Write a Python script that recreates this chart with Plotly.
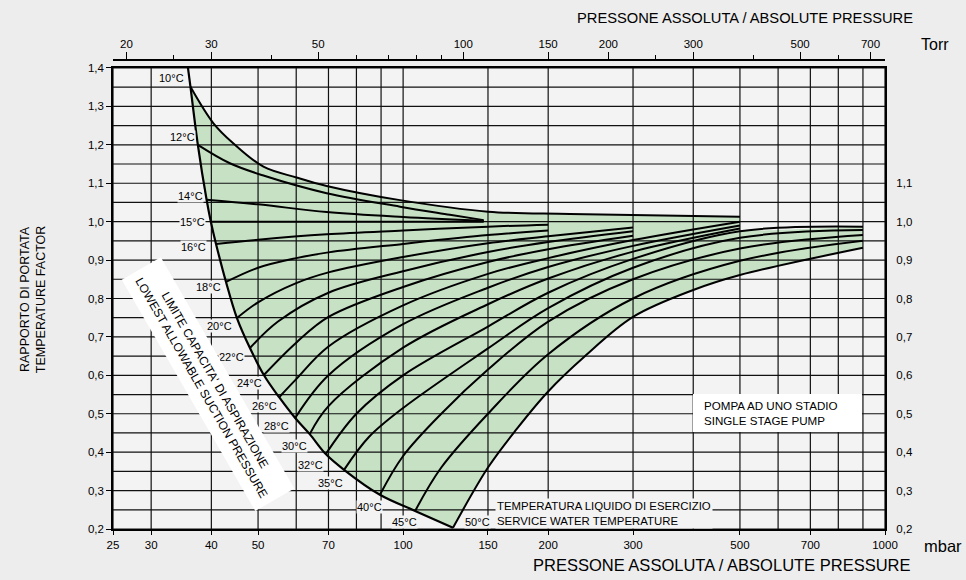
import math
import plotly.graph_objects as go

# ---------------- data ----------------
# lowest allowable suction pressure (limit line): mbar / factor
limit_p = [35.77, 36.2, 37.5, 39.1, 39.9, 40.9, 42.9, 45.2, 48.1, 51.4, 55.3, 59.7, 64.0, 69.1, 75.4, 89.5, 105.9, 126.9]
limit_v = [1.40, 1.351, 1.20, 1.057, 1.0, 0.942, 0.843, 0.749, 0.671, 0.601, 0.543, 0.489, 0.447, 0.395, 0.354, 0.289, 0.247, 0.203]

p_10 = [36.2, 40.4, 44.4, 51.3, 60.1, 69.4, 98.5, 150, 222, 500]
v_10 = [1.351, 1.256, 1.204, 1.143, 1.115, 1.093, 1.056, 1.026, 1.020, 1.013]
p_12 = [37.5, 43.7, 51.3, 69.4, 98.5, 125, 147]
v_12 = [1.20, 1.152, 1.12, 1.074, 1.039, 1.018, 1.004]
p_14 = [39.1, 50, 69.4, 100, 147]
v_14 = [1.057, 1.045, 1.025, 1.012, 1.002]
p_15 = [39.9, 147]
v_15 = [1.0, 1.0]
p_16 = [40.9, 50, 69.4, 100, 150, 200]
v_16 = [0.942, 0.953, 0.967, 0.977, 0.987, 0.992]
p_18 = [42.9, 50, 60, 70, 100, 150, 200]
v_18 = [0.843, 0.88, 0.905, 0.92, 0.942, 0.965, 0.977]
p_20 = [45.2, 50, 60, 70, 100, 150, 200, 300]
v_20 = [0.749, 0.79, 0.84, 0.868, 0.908, 0.944, 0.962, 0.985]
p_22 = [48.1, 55, 70, 100, 150, 200, 300]
v_22 = [0.671, 0.74, 0.815, 0.871, 0.921, 0.947, 0.975]
p_24 = [51.4, 60, 70, 100, 150, 200, 300]
v_24 = [0.601, 0.685, 0.752, 0.83, 0.895, 0.928, 0.963]
p_26 = [55.3, 60, 70, 100, 150, 200, 300, 500]
v_26 = [0.543, 0.59, 0.675, 0.782, 0.864, 0.905, 0.952, 1.0]
p_28 = [59.7, 70, 100, 150, 200, 300, 500]
v_28 = [0.489, 0.6, 0.733, 0.828, 0.882, 0.937, 0.99]
p_30 = [64.0, 70, 100, 150, 200, 300, 500]
v_30 = [0.447, 0.52, 0.672, 0.785, 0.852, 0.922, 0.982]
p_32 = [69.1, 80, 100, 150, 200, 300, 500, 900]
v_32 = [0.395, 0.5, 0.6, 0.727, 0.815, 0.903, 0.975, 0.987]
p_35 = [75.4, 85, 100, 150, 200, 300, 500, 900]
v_35 = [0.354, 0.44, 0.515, 0.67, 0.775, 0.88, 0.958, 0.978]
p_40 = [89.5, 100, 120, 150, 200, 300, 500, 900]
v_40 = [0.289, 0.39, 0.5, 0.615, 0.74, 0.85, 0.93, 0.965]
p_45 = [105.9, 120, 150, 200, 300, 500, 900]
v_45 = [0.247, 0.36, 0.50, 0.655, 0.80, 0.898, 0.95]
p_50 = [126.9, 150, 172, 200, 238, 300, 400, 500, 900]
v_50 = [0.203, 0.36, 0.46, 0.558, 0.649, 0.752, 0.822, 0.861, 0.932]

temps = [10, 12, 14, 15, 16, 18, 20, 22, 24, 26, 28, 30, 32, 35, 40, 45, 50]

# axis ticks / grid
mbar_ticks = [25, 30, 40, 50, 70, 100, 150, 200, 300, 500, 700, 1000]
mbar_grid = [25, 30, 40, 50, 60, 70, 80, 90, 100, 150, 200, 300, 400, 500, 600, 700, 800, 900, 1000]
torr_major = [20, 30, 50, 100, 150, 200, 300, 500, 700]
torr_minor = [25, 40, 60, 70, 80, 90, 250, 400, 600]
TORR_TO_MBAR = 1.33322
factor_ticks = [0.2, 0.3, 0.4, 0.5, 0.6, 0.7, 0.8, 0.9, 1.0, 1.1, 1.2, 1.3, 1.4]
factor_right = [0.2, 0.3, 0.4, 0.5, 0.6, 0.7, 0.8, 0.9, 1.0, 1.1]
factor_grid = [0.2, 0.25, 0.3, 0.35, 0.4, 0.45, 0.5, 0.55, 0.6, 0.65, 0.7, 0.75, 0.8, 0.85,
               0.9, 0.95, 1.0, 1.05, 1.1, 1.15, 1.2, 1.25, 1.3, 1.35, 1.4]

curves = {10: (p_10, v_10), 12: (p_12, v_12), 14: (p_14, v_14), 15: (p_15, v_15),
          16: (p_16, v_16), 18: (p_18, v_18), 20: (p_20, v_20), 22: (p_22, v_22),
          24: (p_24, v_24), 26: (p_26, v_26), 28: (p_28, v_28), 30: (p_30, v_30),
          32: (p_32, v_32), 35: (p_35, v_35), 40: (p_40, v_40), 45: (p_45, v_45),
          50: (p_50, v_50)}

# ---------------- styling ----------------
BG = "#ededed"
PLOT_BG = "#f3f3f3"
GREEN = "#c7e1c5"
FONT = "Liberation Sans, Arial, sans-serif"

def comma(v):
    return f"{v:.1f}".replace(".", ",")

fig = go.Figure()

# ---- green band (built from the boundary curves) ----
fx, fy = [], []
fx += p_10; fy += v_10
fx += [p_10[-1], p_32[-2], p_32[-2]]; fy += [v_10[-1], v_32[-2], v_32[-2]]
fx += [p_32[-1], p_32[-1], p_50[-1], p_50[-1]]; fy += [v_32[-1], v_32[-1], v_50[-1], v_50[-1]]
fx += p_50[::-1][1:]; fy += v_50[::-1][1:]
fx += [p_50[0]]; fy += [v_50[0]]
fx += limit_p[::-1][1:-2]; fy += limit_v[::-1][1:-2]
fig.add_trace(go.Scatter(x=fx, y=fy, mode="lines", fill="toself", fillcolor=GREEN,
                         line=dict(width=0, color=GREEN, shape="spline", smoothing=1),
                         hoverinfo="skip", showlegend=False))

# ---- grid drawn above the fill ----
gx, gy = [], []
for g in factor_grid:
    gx += [25, 1000, None]; gy += [g, g, None]
for g in mbar_grid:
    gx += [g, g, None]; gy += [0.2, 1.4, None]
fig.add_trace(go.Scatter(x=gx, y=gy, mode="lines", line=dict(color="#111", width=1.2),
                         hoverinfo="skip", showlegend=False))

# ---- temperature curves ----
for t in temps:
    px_, pv_ = curves[t]
    fig.add_trace(go.Scatter(x=px_, y=pv_, mode="lines",
                             line=dict(color="black", width=2, shape="spline", smoothing=1),
                             name=f"{t}°C", showlegend=False))
fig.add_trace(go.Scatter(x=limit_p, y=limit_v, mode="lines",
                         line=dict(color="black", width=2.2, shape="spline", smoothing=1),
                         showlegend=False, name="limit"))

# invisible anchors for the secondary axes
fig.add_trace(go.Scatter(x=[100], y=[1], xaxis="x2", yaxis="y", mode="markers",
                         marker=dict(opacity=0), hoverinfo="skip", showlegend=False))
fig.add_trace(go.Scatter(x=[100], y=[1], xaxis="x", yaxis="y2", mode="markers",
                         marker=dict(opacity=0), hoverinfo="skip", showlegend=False))

# ---- temperature labels ----
label_shift = {10: (-5, 9), 12: (-2, 8), 14: (-3, 4), 15: (-5, 0), 16: (-9, -3), 18: (-4, -5),
               20: (-4, -8), 22: (-5, -9), 24: (-1, -8), 26: (-1, -9), 28: (-5, -8),
               30: (-2, -12), 32: (-2, -11), 35: (0, -13), 40: (3, -12), 45: (3, -11)}
annotations = []
for t in temps:
    px_, pv_ = curves[t]
    if t == 50:
        annotations.append(dict(x=math.log10(px_[0]), y=pv_[0], xref="x", yref="y",
                                text="50°C", showarrow=False, xanchor="left", yanchor="middle",
                                xshift=11, yshift=6, font=dict(size=11, family=FONT, color="black"),
                                bgcolor=PLOT_BG, borderpad=0))
        continue
    xs, ys = label_shift[t]
    annotations.append(dict(x=math.log10(px_[0]), y=pv_[0], xref="x", yref="y",
                            text=f"{t}°C", showarrow=False, xanchor="right", yanchor="middle",
                            xshift=xs, yshift=ys, font=dict(size=11, family=FONT, color="black"),
                            bgcolor=PLOT_BG, borderpad=0))

# ---- texts ----
annotations += [
    dict(x=1.039, y=1.0896, xref="paper", yref="paper", text="PRESSONE ASSOLUTA / ABSOLUTE PRESSURE",
         showarrow=False, xanchor="right", yanchor="middle", font=dict(size=14.7, family=FONT, color="black")),
    dict(x=1.0648, y=1.032, xref="paper", yref="paper", text="Torr", showarrow=False,
         xanchor="center", yanchor="middle", font=dict(size=16, family=FONT, color="black")),
    dict(x=1.0745, y=-0.036, xref="paper", yref="paper", text="mbar", showarrow=False,
         xanchor="center", yanchor="middle", font=dict(size=16.5, family=FONT, color="black")),
    dict(x=1.0363, y=-0.077, xref="paper", yref="paper", text="PRESSONE ASSOLUTA / ABSOLUTE PRESSURE",
         showarrow=False, xanchor="right", yanchor="middle", font=dict(size=16.5, family=FONT, color="black")),
    dict(x=-0.1036, y=0.488, xref="paper", yref="paper", text="RAPPORTO DI PORTATA<br>TEMPERATURE FACTOR",
         showarrow=False, textangle=-90, xanchor="center", yanchor="middle",
         font=dict(size=12.5, family=FONT, color="black")),
    dict(x=0.4948, y=0.032, xref="paper", yref="paper",
         text="TEMPERATURA LIQUIDO DI ESERCIZIO<br>SERVICE WATER TEMPERATURE",
         showarrow=False, xanchor="left", yanchor="middle", align="left",
         font=dict(size=11.4, family=FONT, color="black"), bgcolor=PLOT_BG, borderpad=1),
    dict(x=0.763, y=0.2473, xref="paper", yref="paper",
         text="POMPA AD UNO STADIO<br>SINGLE STAGE PUMP",
         showarrow=False, xanchor="left", yanchor="middle", align="left",
         font=dict(size=11.6, family=FONT, color="black")),
    dict(x=0.123, y=0.309, xref="paper", yref="paper",
         text="LIMITE CAPACITA' DI ASPIRAZIONE<br>LOWEST ALLOWABLE SUCTION PRESSURE",
         showarrow=False, textangle=60, xanchor="center", yanchor="middle", align="center",
         font=dict(size=12, family=FONT, color="black"), bgcolor="white", borderpad=7),
]

shapes = [dict(type="rect", xref="paper", yref="paper", x0=0.7513, x1=0.9702, y0=0.2068, y1=0.2878,
               fillcolor="white", line=dict(width=0), layer="above")]

tick_font = dict(size=11.5, family=FONT, color="black")
fig.update_layout(
    width=966, height=580,
    margin=dict(l=113, r=81, t=60, b=51),
    paper_bgcolor=BG, plot_bgcolor=PLOT_BG,
    font=dict(family=FONT, color="black"),
    showlegend=False,
    annotations=annotations,
    shapes=shapes,
    xaxis=dict(type="log", range=[math.log10(25), math.log10(1000)],
               tickmode="array", tickvals=mbar_ticks, ticktext=[str(v) for v in mbar_ticks],
               showgrid=False, zeroline=False, showline=True, linecolor="black", linewidth=1.5,
               mirror=True, ticks="outside", ticklen=4, tickcolor="black", tickfont=tick_font),
    xaxis2=dict(type="log", range=[math.log10(25), math.log10(1000)], overlaying="x",
                side="top", anchor="free", position=1,
                tickmode="array", tickvals=[t * TORR_TO_MBAR for t in torr_major],
                ticktext=[str(t) for t in torr_major],
                minor=dict(tickmode="array", tickvals=[t * TORR_TO_MBAR for t in torr_minor],
                           ticks="outside", ticklen=4, tickcolor="black", showgrid=False),
                showgrid=False, zeroline=False, showline=True, linecolor="black", linewidth=1.5,
                ticks="outside", ticklen=7, tickcolor="black", tickfont=tick_font),
    yaxis=dict(range=[0.2, 1.4], domain=[0, 0.983], tickmode="array", tickvals=factor_ticks,
               ticktext=[comma(v) for v in factor_ticks], showgrid=False, zeroline=False,
               showline=True, linecolor="black", linewidth=1.5, mirror=True,
               ticks="outside", ticklen=5, tickcolor="black", tickfont=tick_font),
    yaxis2=dict(range=[0.2, 1.4], overlaying="y", side="right", anchor="x",
                tickmode="array", tickvals=factor_right, ticktext=[comma(v) for v in factor_right],
                showgrid=False, zeroline=False, showline=False,
                ticks="outside", ticklen=8, tickcolor="rgba(0,0,0,0)", tickfont=tick_font),
)

fig.write_html(
    "out.html",
    config={"displayModeBar": False},
    post_script="document.body.style.margin='0px';document.body.style.overflow='hidden';"
                "document.documentElement.style.background='#ededed';",
)
